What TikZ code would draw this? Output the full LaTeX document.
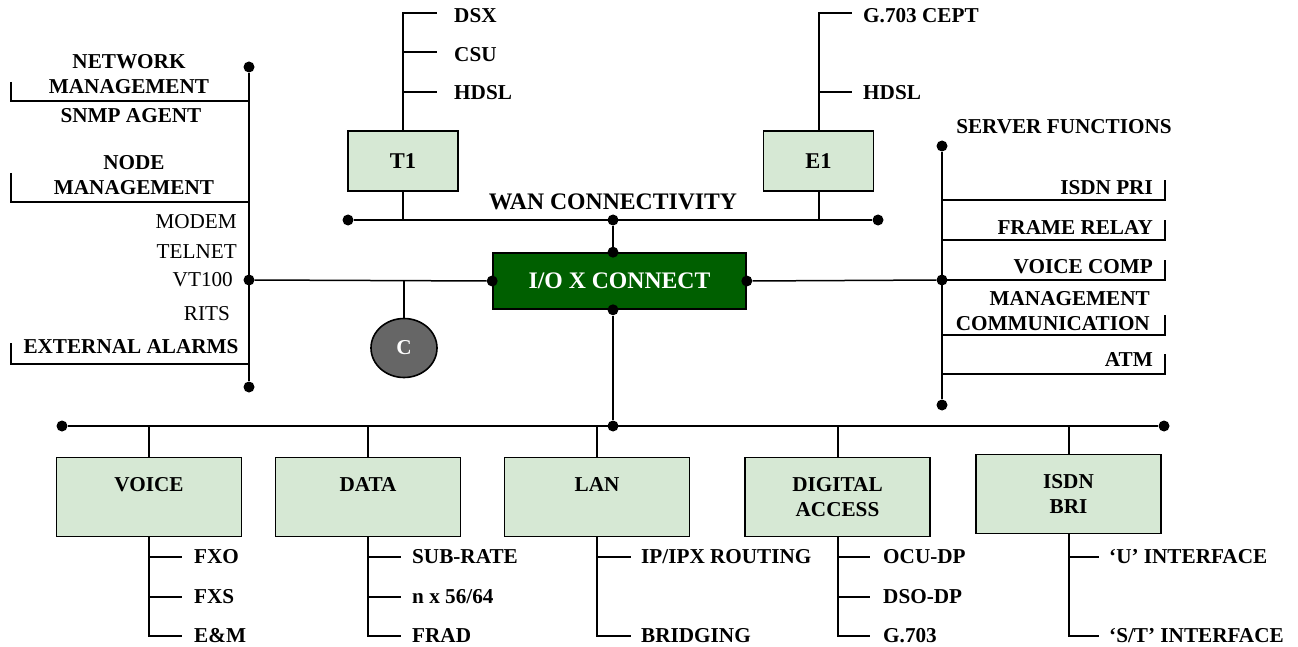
\documentclass[tikz,border=0pt]{standalone}
\usepackage{fontspec}
\setmainfont{Liberation Serif}
\usetikzlibrary{shapes.geometric, positioning, calc}
\definecolor{unitgreen}{HTML}{D6E8D4}
\definecolor{xgreen}{HTML}{005F00}
\definecolor{cgrey}{HTML}{666666}
\newcommand{\boldlbl}{\fontsize{21.2}{25}\selectfont\bfseries}
\newcommand{\plainlbl}{\fontsize{21.2}{25}\selectfont}
\newcommand{\biglbl}{\fontsize{23.7}{28}\selectfont\bfseries}

\begin{document}
\begin{tikzpicture}[
  x=1pt, y=-1pt,
  unit/.style={
    rectangle,
    draw=black,
    fill=unitgreen,
    line width=1.6pt,
    minimum width=185pt,
    minimum height=79pt,
    align=center,
    font=\boldlbl,
    inner sep=0pt
  },
  wanbox/.style={
    unit,
    minimum width=110pt,
    minimum height=60pt,
    font=\fontsize{22.5}{26}\selectfont\bfseries
  },
  xconn/.style={
    rectangle,
    draw=black,
    fill=xgreen,
    text=white,
    line width=1.6pt,
    minimum width=253pt,
    minimum height=56pt,
    font=\biglbl
  },
  ctrl/.style={
    ellipse,
    draw=black,
    fill=cgrey,
    text=white,
    line width=1.6pt,
    minimum width=66pt,
    minimum height=59pt,
    inner sep=0pt,
    font=\boldlbl
  },
  item/.style={font=\boldlbl, anchor=west, inner sep=0pt},
  side/.style={font=\boldlbl, align=center, inner sep=0pt},
  port/.style={font=\plainlbl, anchor=east, inner sep=0pt},
  srv/.style={font=\boldlbl, anchor=east, align=right, inner sep=0pt},
  bus/.style={line width=1.5pt},
  link/.style={line width=2pt},
  dot/.style={circle, fill=black, inner sep=0pt, minimum size=11pt}
]
\useasboundingbox (0,0) rectangle (1298,647);

% Left bus and management labels
\node[dot] (ltop) at (249,67)  {};
\node[dot] (lmid) at (249,280) {};
\node[dot] (lbot) at (249,387) {};
\draw[bus] (ltop) -- (lbot);

\node[side] (netmgmt)  at (129,74.5)  {NETWORK\\MANAGEMENT};
\node[side] (snmp)     at (131,116)   {SNMP AGENT};
\node[side] (nodemgmt) at (134,175.5) {NODE\\MANAGEMENT};
\node[port] (modem)    at (237,222)   {MODEM};
\node[port] (telnet)   at (237,252)   {TELNET};
\node[port] (vt100)    at (233,280)   {VT100};
\node[port] (rits)     at (230,314)   {RITS};
\node[side] (extalarm) at (131,347)   {EXTERNAL ALARMS};

\coordinate (netA) at (11,82);  \coordinate (netB) at (249,101);
\coordinate (nodA) at (11,173); \coordinate (nodB) at (249,202);
\coordinate (extA) at (11,343); \coordinate (extB) at (249,364);
\draw[link] (netA) |- (netB);
\draw[link] (nodA) |- (nodB);
\draw[link] (extA) |- (extB);

% WAN connectivity
\node[wanbox] (t1) at (403,161)   {T1};
\node[wanbox] (e1) at (818.5,161) {E1};
\node[dot] (wanl) at (348,220) {};
\node[dot] (wanc) at (613,220) {};
\node[dot] (wanr) at (878,220) {};
\draw[bus] (wanl) -- (wanr);
\node[font=\biglbl] (wanlbl) at (613,202) {WAN CONNECTIVITY};
\draw[link] (t1.south) -- (t1.south |- wanc);
\draw[link] (e1.south) -- (e1.south |- wanc);

\node[item] (dsx)    at (454,16) {DSX};
\node[item] (csu)    at (454,55) {CSU};
\node[item] (t1hdsl) at (454,93) {HDSL};
\draw[link] (t1.north) -- (403,13) -- (437,13);
\draw[link] (403,52) -- (437,52);
\draw[link] (403,92) -- (437,92);

\node[item] (cept)   at (863,16) {G.703 CEPT};
\node[item] (e1hdsl) at (863,93) {HDSL};
\draw[link] (e1.north) -- (818.5,13) -- (852,13);
\draw[link] (818.5,92) -- (852,92);

% Cross connect
\node[xconn] (xc) at (619.5,281) {I/O X CONNECT};
\node[dot] (xct) at (wanc |- xc.north) {};
\node[dot] (xcb) at (wanc |- xc.south) {};
\node[dot] (xcl) at (xc.west) {};
\node[dot] (xcr) at (xc.east) {};
\draw[bus] (wanc) -- (xct);
\draw[bus] (lmid) -- (xcl);

\node[ctrl] (cnode) at (404,348) {C};
\draw[link] (cnode.north) -- (cnode.north |- lmid);

% Server functions
\node[dot] (stop) at (942,146) {};
\node[dot] (smid) at (942,280) {};
\node[dot] (sbot) at (942,405) {};
\draw[bus] (stop) -- (sbot);
\draw[bus] (xcr) -- (smid);

\node[font=\boldlbl] (srvlbl) at (1064,127) {SERVER FUNCTIONS};
\foreach \y in {200,240,280,335,374}
  \draw[link] (942,\y) -| (1165,{\y-20});
\node[srv] (pri)   at (1153,188) {ISDN PRI};
\node[srv] (frame) at (1153,228) {FRAME RELAY};
\node[srv] (vcomp) at (1153,267) {VOICE COMP};
\node[srv] (mcomm) at (1150,311) {MANAGEMENT\\COMMUNICATION};
\node[srv] (atm)   at (1153,360) {ATM};

% Bottom bus and units
\node[dot] (bl) at (62,426)   {};
\node[dot] (bc) at (613,426)  {};
\node[dot] (br) at (1164,426) {};
\draw[bus] (bl) -- (br);
\draw[bus] (xcb) -- (bc);

\node[unit] (voice)   at (149,497)    {VOICE\\\mbox{}};
\node[unit] (data)    at (368,497)    {DATA\\\mbox{}};
\node[unit] (lan)     at (597,497)    {LAN\\\mbox{}};
\node[unit] (digital) at (837.5,497)  {DIGITAL\\ACCESS};
\node[unit] (isdn)    at (1068.5,494) {ISDN\\BRI};

\draw[link] (voice.north)   -- (voice.north |- bl);
\draw[link] (data.north)    -- (data.north |- bl);
\draw[link] (lan.north)     -- (lan.north |- bl);
\draw[link] (digital.north) -- (digital.north |- bl);
\draw[link] (isdn.north)    -- (isdn.north |- bl);

% Voice
\draw[link] (voice.south) -- (149,636) -- (182,636);
\draw[link] (149,557) -- (182,557);
\draw[link] (149,597) -- (182,597);
\node[item] (fxo) at (194,557) {FXO};
\node[item] (fxs) at (194,597) {FXS};
\node[item] (em)  at (194,636) {E\&M};

% Data
\draw[link] (data.south) -- (368,636) -- (401,636);
\draw[link] (368,557) -- (401,557);
\draw[link] (368,597) -- (401,597);
\node[item] (subrate) at (412,557) {SUB-RATE};
\node[item] (nx)      at (412,597) {n x 56/64};
\node[item] (frad)    at (412,636) {FRAD};

% LAN
\draw[link] (lan.south) -- (597,636) -- (631,636);
\draw[link] (597,557) -- (631,557);
\node[item] (iprout) at (641,557) {IP/IPX ROUTING};
\node[item] (bridge) at (641,636) {BRIDGING};

% Digital access
\draw[link] (digital.south) -- (837.5,636) -- (870,636);
\draw[link] (837.5,557) -- (870,557);
\draw[link] (837.5,597) -- (870,597);
\node[item] (ocudp) at (883,557) {OCU-DP};
\node[item] (dsodp) at (883,597) {DSO-DP};
\node[item] (g703)  at (883,636) {G.703};

% ISDN BRI
\draw[link] (isdn.south) -- (1068.5,636) -- (1099,636);
\draw[link] (1068.5,557) -- (1099,557);
\node[item] (uif)  at (1109,557) {‘U’ INTERFACE};
\node[item] (stif) at (1109,636) {‘S/T’ INTERFACE};

\end{tikzpicture}
\end{document}
